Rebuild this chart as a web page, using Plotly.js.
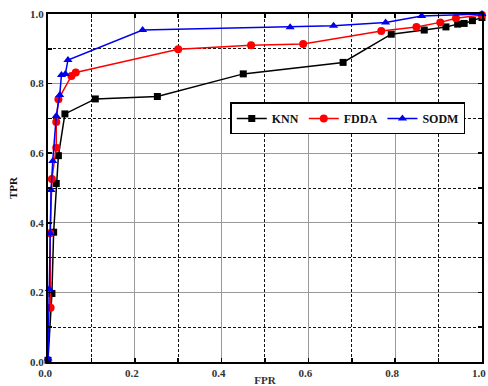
<!DOCTYPE html>
<html><head><meta charset="utf-8">
<script src="https://cdn.plot.ly/plotly-3.0.1.min.js"></script>
<style>html,body{margin:0;padding:0;background:#fff;}#c{width:488px;height:386px;}</style>
</head><body><div id="c"></div>
<script>
const knnX = [0, 0.009, 0.013, 0.019, 0.024, 0.039, 0.109, 0.252, 0.450, 0.680, 0.791, 0.867, 0.917, 0.944, 0.959, 0.978, 1.0];
const knnY = [0.005, 0.197, 0.373, 0.513, 0.593, 0.713, 0.756, 0.763, 0.828, 0.861, 0.942, 0.954, 0.963, 0.971, 0.973, 0.981, 0.99];
const fddaX = [0.006, 0.005, 0.009, 0.019, 0.019, 0.024, 0.054, 0.064, 0.300, 0.468, 0.588, 0.768, 0.849, 0.904, 0.940, 1.0];
const fddaY = [0.156, 0.37, 0.526, 0.616, 0.69, 0.755, 0.822, 0.832, 0.899, 0.910, 0.914, 0.951, 0.963, 0.976, 0.988, 0.997];
const sodmX = [0, 0.003, 0.005, 0.007, 0.011, 0.019, 0.027, 0.031, 0.040, 0.046, 0.218, 0.558, 0.658, 0.778, 0.861, 1.0];
const sodmY = [0.01, 0.21, 0.37, 0.494, 0.578, 0.707, 0.767, 0.825, 0.828, 0.868, 0.954, 0.962, 0.966, 0.976, 0.994, 1.0];
const tickVals = [0, 0.2, 0.4, 0.6, 0.8, 1.0];
const tickText = ['0.0', '0.2', '0.4', '0.6', '0.8', '1.0'];

const font = {family: 'Liberation Serif, Times New Roman, serif', size: 11, color: '#333'};
function tr(x, y, name, color, symbol, size) {
  return {x: x, y: y, name: name, type: 'scatter', mode: 'lines+markers', cliponaxis: false,
    line: {color: color, width: 1.5}, marker: {color: color, symbol: symbol, size: size}};
}
const data = [
  tr(knnX, knnY, 'KNN', '#000000', 'square', 7),
  tr(fddaX, fddaY, 'FDDA', '#ff0000', 'circle', 8),
  tr(sodmX, sodmY, 'SODM', '#0000ee', 'triangle-up', 8)
];
const axis = {
  range: [0, 1.0001], tickvals: tickVals, ticktext: tickText, showline: true, linecolor: '#000', linewidth: 2,
  mirror: 'ticks', ticks: 'inside', ticklen: 4, tickcolor: '#000', tickwidth: 1.5,
  showgrid: true, gridcolor: '#999', gridwidth: 1, zeroline: false, ticklabeloverflow: 'allow',
  minor: {tickvals: [0.1, 0.3, 0.5, 0.7, 0.9], showgrid: true, gridcolor: '#111', griddash: '3px,2px', gridwidth: 1, ticks: 'inside', ticklen: 4, tickcolor: '#000'},
  tickfont: {family: 'Liberation Serif, serif', size: 11, color: '#333', weight: 'bold'}
};
const layout = {
  width: 488, height: 386,
  margin: {l: 48, r: 6, t: 14, b: 24},
  paper_bgcolor: '#fff', plot_bgcolor: '#fff',
  font: font,
  showlegend: true,
  legend: {orientation: 'h', x: 0.42, y: 0.70, xanchor: 'left', yanchor: 'middle',
    bordercolor: '#000', borderwidth: 1.5, bgcolor: '#fff',
    font: {family: 'Liberation Serif, serif', size: 12, color: '#111', weight: 'bold'},
    itemwidth: 30, tracegroupgap: 0},
  xaxis: Object.assign({}, axis, {ticklabelshift: -3, title: {text: 'FPR', standoff: 11, font: {family: 'Liberation Serif, serif', size: 11, color: '#333', weight: 'bold'}}}),
  yaxis: Object.assign({}, axis, {title: {text: 'TPR', standoff: 10, font: {family: 'Liberation Serif, serif', size: 11, color: '#111', weight: 'bold'}}})
};
Plotly.newPlot('c', data, layout, {staticPlot: true});
</script></body></html>
